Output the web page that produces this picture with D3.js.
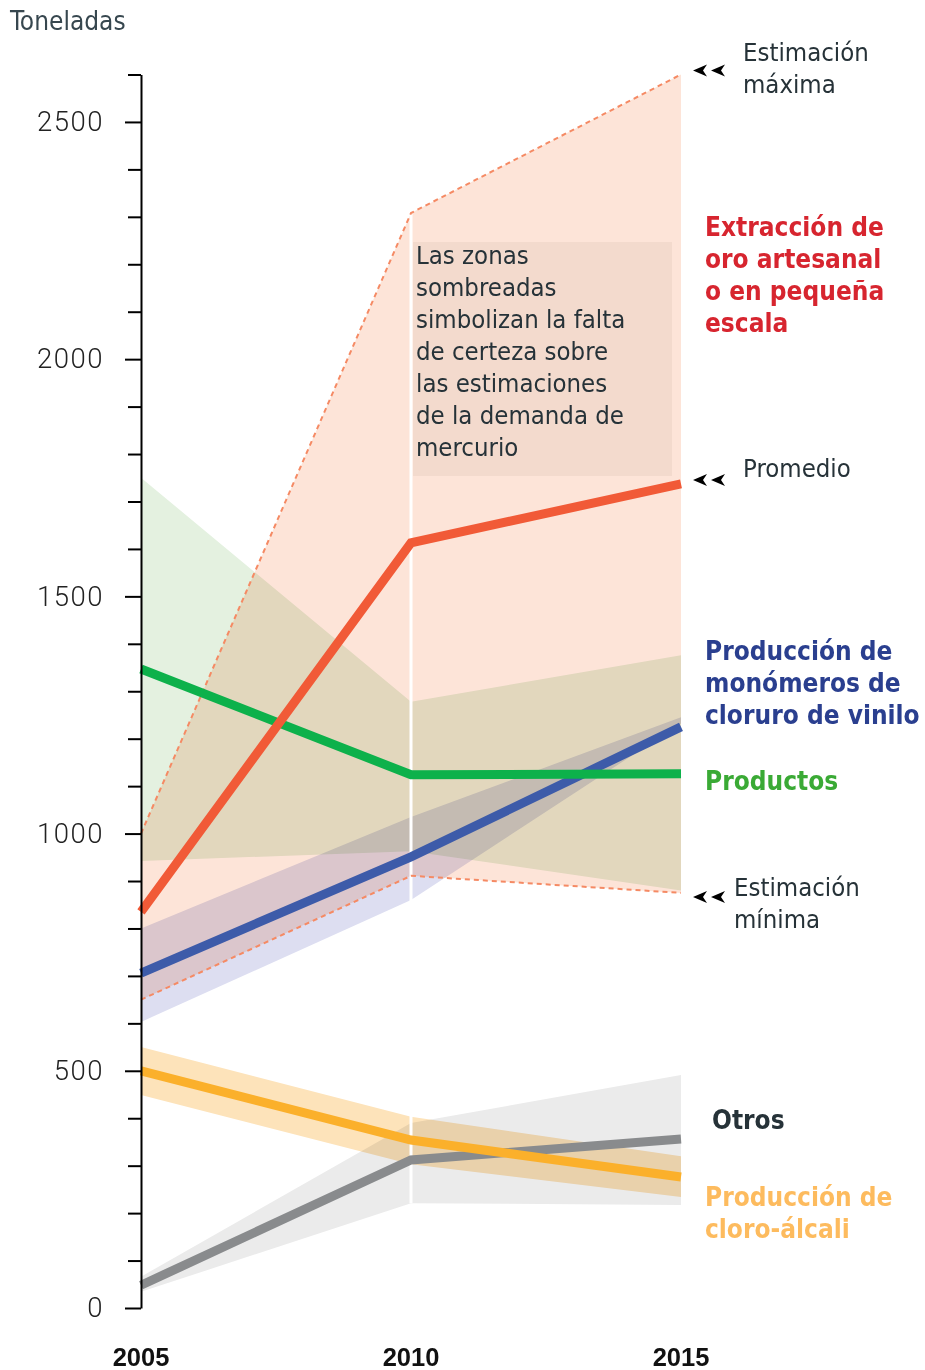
<!DOCTYPE html>
<html>
<head>
<meta charset="utf-8">
<script src="https://cdn.jsdelivr.net/npm/d3@7"></script>
<style>
  html, body { margin: 0; padding: 0; background: #fff; }
  svg { display: block; }
</style>
</head>
<body>
<script>
// ---- data ----
const years = [2005, 2010, 2015];
const yTicks = [0, 500, 1000, 1500, 2000, 2500];

const asgmMean = [835, 1613, 1737];
const asgmMin  = [650, 911, 875];
const asgmMax  = [1000, 2308, 2600];

const productsMean = [1347, 1124, 1126];
const productsMin  = [942, 963, 880];
const productsMax  = [1750, 1278, 1376];

const vcmMean = [706, 951, 1225];
const vcmMin  = [603, 860, 1232];
const vcmMax  = [800, 1035, 1245];

const chlorMean = [500, 354, 276];
const chlorMin  = [449, 303, 234];
const chlorMax  = [550, 403, 320];

const otherMean = [48, 312, 356];
const otherMin  = [34, 221, 217];
const otherMax  = [66, 390, 491];

const boxLines = ["Las zonas", "sombreadas", "simbolizan la falta", "de certeza sobre",
                  "las estimaciones", "de la demanda de", "mercurio"];

// ---- setup ----
const W = 925, H = 1370;
const svg = d3.select("body").append("svg").attr("width", W).attr("height", H);

const x = d3.scaleLinear().domain([2005, 2015]).range([141, 681]);
const y = d3.scaleLinear().domain([0, 2600]).range([1308, 74.5]);

const regFont = "'DejaVu Sans Condensed', 'DejaVu Sans', sans-serif";
const textColor = "#263238";

// ---- bands ----
const series = [
  {mean: asgmMean, min: asgmMin, max: asgmMax, band: "#FDE4D8", line: "#F15A37"},
  {mean: productsMean, min: productsMin, max: productsMax, band: "#E4F1E0", line: "#0DB14B"},
  {mean: vcmMean, min: vcmMin, max: vcmMax, band: "#DDDEF1", line: "#3D5BA9"},
  {mean: otherMean, min: otherMin, max: otherMax, band: "#EBEBEB", line: "#898B8D"},
  {mean: chlorMean, min: chlorMin, max: chlorMax, band: "#FDE3BA", line: "#FBB02B"}
];

const area = d3.area()
  .x((d, i) => x(years[i]))
  .y0(d => y(d[0]))
  .y1(d => y(d[1]));

const bandG = svg.append("g").style("isolation", "isolate");
series.forEach(s => {
  const pts = years.map((yr, i) => [s.min[i], s.max[i]]);
  bandG.append("path")
    .attr("d", area(pts))
    .attr("fill", s.band)
    .style("mix-blend-mode", "multiply");
});

// white separator at 2010
const topAt2010 = d3.max(series, s => s.max[1]);
const botAt2010 = d3.min(series, s => s.min[1]);
svg.append("line")
  .attr("x1", x(2010)).attr("x2", x(2010))
  .attr("y1", y(topAt2010)).attr("y2", y(botAt2010))
  .attr("stroke", "#fff").attr("stroke-width", 3);

// ---- text box ----
svg.append("rect")
  .attr("x", 413).attr("y", 242).attr("width", 259).attr("height", 234)
  .attr("fill", "#F3DACD");
svg.append("g").selectAll("text").data(boxLines).join("text")
  .attr("x", 416).attr("y", (d, i) => 264 + i * 32)
  .attr("font-family", regFont).attr("font-size", 25.5)
  .attr("fill", textColor)
  .text(d => d);

// ---- dashed min/max lines (ASGM) ----
const line = d3.line().x((d, i) => x(years[i])).y(d => y(d));
[asgmMax, asgmMin].forEach(arr => {
  svg.append("path").attr("d", line(arr))
    .attr("fill", "none").attr("stroke", "#F58A64")
    .attr("stroke-width", 2).attr("stroke-dasharray", "5,4");
});

// ---- mean lines ----
const lineOrder = [series[3], series[4], series[2], series[1], series[0]];
lineOrder.forEach(s => {
  svg.append("path").attr("d", line(s.mean))
    .attr("fill", "none").attr("stroke", s.line)
    .attr("stroke-width", 9).attr("stroke-linejoin", "miter");
});

// ---- y axis ----
const yAxis = d3.axisLeft(y)
  .tickValues(d3.range(0, 2601, 100))
  .tickSize(13)
  .tickSizeOuter(0)
  .tickFormat(d => yTicks.includes(d) ? d : "");
const ag = svg.append("g").attr("transform", `translate(${x(2005)},0)`).call(yAxis);
ag.select(".domain").attr("stroke", "#000").attr("stroke-width", 2);
ag.selectAll(".tick line").attr("stroke", "#000").attr("stroke-width", 2)
  .attr("x2", d => yTicks.includes(d) ? -16 : -13);
ag.selectAll(".tick text")
  .attr("x", -37)
  .attr("font-family", "Roboto, sans-serif")
  .attr("font-weight", 300)
  .attr("font-size", 27.5)
  .attr("letter-spacing", 1.5)
  .attr("fill", "#222");

// ---- x labels ----
svg.append("g").selectAll("text").data(years).join("text")
  .attr("x", d => x(d)).attr("y", 1366)
  .attr("text-anchor", "middle")
  .attr("font-family", "'Liberation Sans', Arial, sans-serif")
  .attr("font-weight", "bold").attr("font-size", 25.5)
  .attr("fill", "#111")
  .text(d => d);

// ---- y title ----
svg.append("text").attr("x", 10).attr("y", 30)
  .attr("font-family", regFont).attr("font-size", 26)
  .attr("fill", "#37474F").text("Toneladas");

// ---- arrows and annotations ----
function arrows(yy) {
  [693, 711].forEach(ax => {
    svg.append("path")
      .attr("d", `M${ax},${yy} L${ax + 14},${yy - 6} L${ax + 10},${yy} L${ax + 14},${yy + 6} Z`)
      .attr("fill", "#000");
  });
}
arrows(y(asgmMax[2]) - 4);
arrows(y(asgmMean[2]) - 4);
arrows(y(asgmMin[2]) + 4);

function textLines(lines, xx, y0, opts) {
  lines.forEach((t, i) => {
    svg.append("text").attr("x", xx).attr("y", y0 + i * 32)
      .attr("font-family", regFont)
      .attr("font-size", opts.size)
      .attr("font-weight", opts.weight || "normal")
      .attr("fill", opts.color)
      .text(t);
  });
}
const annot = {size: 25.5, color: textColor};
textLines(["Estimación", "máxima"], 743, 61, annot);
textLines(["Promedio"], 743, 477, annot);
textLines(["Estimación", "mínima"], 734, 896, annot);

const bold = c => ({size: 26, weight: "bold", color: c});
textLines(["Extracción de", "oro artesanal", "o en pequeña", "escala"], 705, 236, bold("#D7252F"));
textLines(["Producción de", "monómeros de", "cloruro de vinilo"], 705, 660, bold("#2A3F8F"));
textLines(["Productos"], 705, 790, bold("#3AAA35"));
textLines(["Otros"], 712, 1129, bold("#263238"));
textLines(["Producción de", "cloro-álcali"], 705, 1206, bold("#FDBB5E"));
</script>
</body>
</html>
